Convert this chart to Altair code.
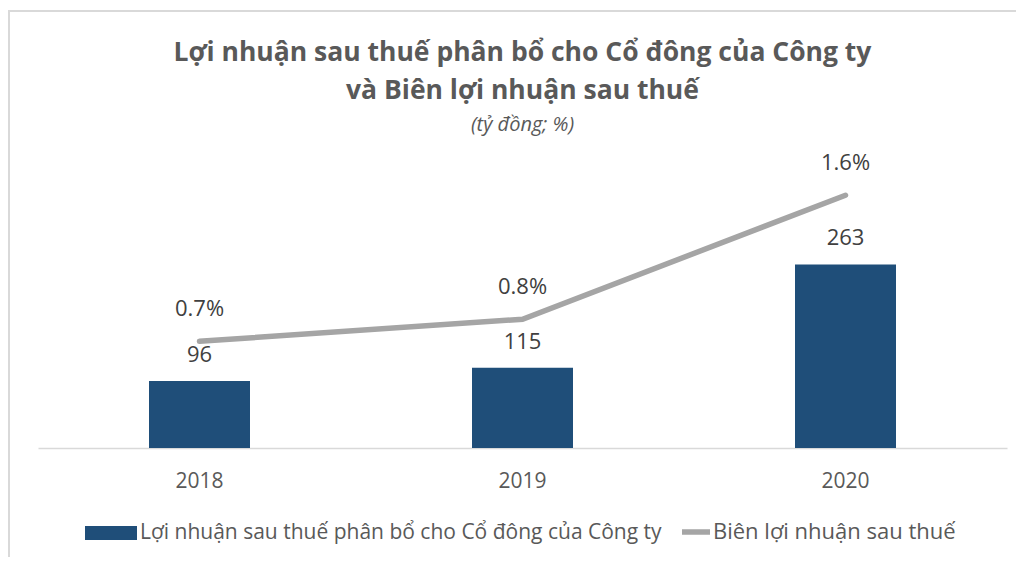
import altair as alt
import pandas as pd

years = ["2018", "2019", "2020"]
profit = [96, 115, 263]
margin_pct = [0.68, 0.82, 1.61]
series_bar = "Lợi nhuận sau thuế phân bổ cho Cổ đông của Công ty"
series_line = "Biên lợi nhuận sau thuế"

df = pd.DataFrame({
    "year": years,
    "profit": profit,
    "margin": margin_pct,
    "s1": [series_bar] * len(years),
    "s2": [series_line] * len(years),
})

FONT = "Open Sans"
W, H = 969, 298

x = alt.X(
    "year:N",
    scale=alt.Scale(paddingInner=0, paddingOuter=0),
    axis=alt.Axis(
        title=None, labelAngle=0, ticks=False, domainColor="#D9D9D9",
        domainWidth=1.5, labelFontSize=21, labelColor="#595959",
        labelPadding=22, labelFont=FONT,
    ),
)

base = alt.Chart(df)

bars = base.mark_bar(size=101).encode(
    x=x,
    y=alt.Y("profit:Q", scale=alt.Scale(domain=[0, 427]), axis=None),
    fill=alt.Fill(
        "s1:N",
        scale=alt.Scale(range=["#1F4E79"]),
        legend=alt.Legend(
            title=None, orient="none", legendX=47, legendY=357, padding=0,
            symbolType="M-1,-0.27L1,-0.27L1,0.27L-1,0.27Z", symbolSize=2704,
            symbolStrokeWidth=0, labelFont=FONT, labelFontSize=21,
            labelColor="#595959", labelOffset=3, labelLimit=800,
        ),
    ),
)

bar_labels = base.mark_text(
    baseline="alphabetic", dy=-19, fontSize=22, font=FONT, color="#404040"
).encode(
    x=x,
    y=alt.Y("profit:Q", scale=alt.Scale(domain=[0, 427]), axis=None),
    text=alt.Text("profit:Q"),
)

line = base.mark_line(strokeWidth=5.5, strokeCap="round").encode(
    x=x,
    y=alt.Y("margin:Q", scale=alt.Scale(domain=[0, 1.898]), axis=None),
    stroke=alt.Stroke(
        "s2:N",
        scale=alt.Scale(range=["#A5A5A5"]),
        legend=alt.Legend(
            title=None, orient="none", legendX=641, legendY=365, padding=0,
            symbolType="stroke", symbolSize=784, symbolStrokeWidth=5.5,
            labelFont=FONT, labelFontSize=22, labelColor="#595959",
            labelOffset=0, labelLimit=800,
        ),
    ),
)

line_labels = base.transform_calculate(
    lbl="format(datum.margin, '.1f') + '%'"
).mark_text(
    baseline="alphabetic", dy=-25, fontSize=22, font=FONT, color="#404040"
).encode(
    x=x,
    y=alt.Y("margin:Q", scale=alt.Scale(domain=[0, 1.898]), axis=None),
    text="lbl:N",
)

frame = alt.Chart(pd.DataFrame({"k": [0]})).mark_rect(
    fill=None, stroke="#D9D9D9", strokeWidth=2
).encode(
    x=alt.value(-29), x2=alt.value(1000), y=alt.value(-139), y2=alt.value(430)
)

chart = alt.layer(
    frame, bars, bar_labels, line, line_labels
).resolve_scale(
    y="independent"
).properties(
    width=W,
    height=H,
    padding={"left": 30, "top": 142, "right": 9, "bottom": 109},
    autosize=alt.AutoSizeParams(type="none"),
    title=alt.TitleParams(
        text=["Lợi nhuận sau thuế phân bổ cho Cổ đông của Công ty",
              "và Biên lợi nhuận sau thuế"],
        subtitle="(tỷ đồng; %)",
        anchor="middle", frame="group", font=FONT, fontSize=26.5,
        fontWeight="bold", color="#595959", lineHeight=38,
        subtitleFont=FONT, subtitleFontSize=20, subtitleFontStyle="italic",
        subtitleColor="#595959", subtitlePadding=11, offset=-125,
    ),
).configure_view(stroke=None)

chart.save("out.html", embed_options={"renderer": "svg", "actions": False})
